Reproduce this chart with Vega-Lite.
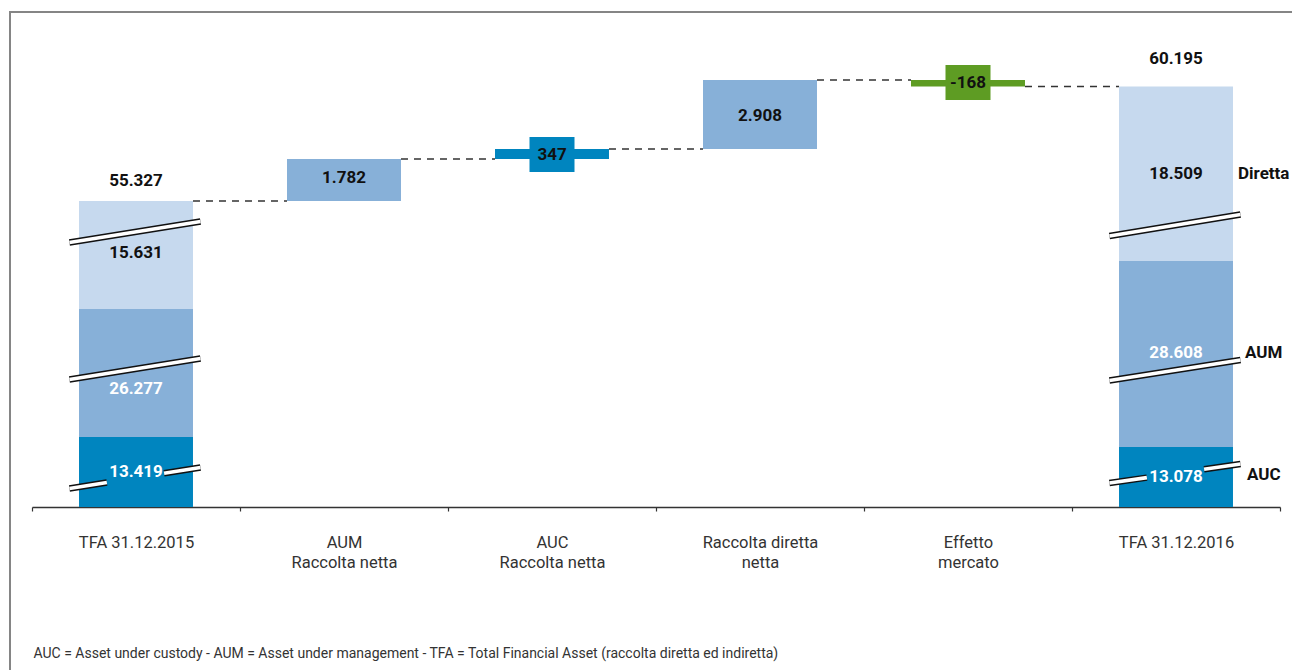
{
  "$schema": "https://vega.github.io/schema/vega-lite/v6.json",
  "width": 1284,
  "height": 660,
  "autosize": {"type": "none"},
  "padding": {"left": 10, "top": 12, "right": -2, "bottom": -2},
  "background": "white",
  "config": {
    "view": {"stroke": "#858585", "strokeWidth": 2},
    "font": "Roboto"
  },
  "datasets": {
    "bars": [
      {"cat": "TFA 31.12.2015", "kind": "AUC", "lo": 0, "hi": 13.419},
      {"cat": "TFA 31.12.2015", "kind": "AUM", "lo": 13.419, "hi": 39.696},
      {"cat": "TFA 31.12.2015", "kind": "Diretta", "lo": 39.696, "hi": 55.327},
      {"cat": "AUM|Raccolta netta", "kind": "AUM netta", "lo": 55.327, "hi": 57.109},
      {"cat": "AUC|Raccolta netta", "kind": "AUC netta", "lo": 57.109, "hi": 57.456},
      {"cat": "Raccolta diretta|netta", "kind": "Diretta netta", "lo": 57.456, "hi": 60.364},
      {"cat": "Effetto|mercato", "kind": "Mercato", "lo": 60.195, "hi": 60.364},
      {"cat": "TFA 31.12.2016", "kind": "AUC", "lo": 0, "hi": 13.078},
      {"cat": "TFA 31.12.2016", "kind": "AUM", "lo": 13.078, "hi": 41.686},
      {"cat": "TFA 31.12.2016", "kind": "Diretta", "lo": 41.686, "hi": 60.195}
    ],
    "labels": [
      {"cat": "TFA 31.12.2015", "text": "13.419", "tone": "light", "at": 7.629},
      {"cat": "TFA 31.12.2015", "text": "26.277", "tone": "light", "at": 23.273},
      {"cat": "TFA 31.12.2015", "text": "15.631", "tone": "dark", "at": 43.505},
      {"cat": "TFA 31.12.2015", "text": "55.327", "tone": "dark", "at": 56.176},
      {"cat": "AUM|Raccolta netta", "text": "1.782", "tone": "dark", "at": 56.282},
      {"cat": "AUC|Raccolta netta", "text": "347", "tone": "dark", "at": 57.265},
      {"cat": "Raccolta diretta|netta", "text": "2.908", "tone": "dark", "at": 58.902},
      {"cat": "Effetto|mercato", "text": "-168", "tone": "dark", "at": 60.28},
      {"cat": "TFA 31.12.2016", "text": "13.078", "tone": "light", "at": 6.539},
      {"cat": "TFA 31.12.2016", "text": "28.608", "tone": "light", "at": 30.663},
      {"cat": "TFA 31.12.2016", "text": "18.509", "tone": "dark", "at": 56.473},
      {"cat": "TFA 31.12.2016", "text": "60.195", "tone": "dark", "at": 62.893}
    ],
    "side": [
      {"cat": "TFA 31.12.2016", "text": "Diretta", "at": 56.473},
      {"cat": "TFA 31.12.2016", "text": "AUM", "at": 30.663},
      {"cat": "TFA 31.12.2016", "text": "AUC", "at": 6.975}
    ],
    "boxes": [
      {"cat": "AUC|Raccolta netta", "kind": "AUC netta", "at": 57.265},
      {"cat": "Effetto|mercato", "kind": "Mercato", "at": 60.3}
    ],
    "links": [
      {"cat": "TFA 31.12.2015", "cat2": "AUM|Raccolta netta", "level": 55.327},
      {"cat": "AUM|Raccolta netta", "cat2": "AUC|Raccolta netta", "level": 57.109},
      {"cat": "AUC|Raccolta netta", "cat2": "Raccolta diretta|netta", "level": 57.456},
      {"cat": "Raccolta diretta|netta", "cat2": "Effetto|mercato", "level": 60.364},
      {"cat": "Effetto|mercato", "cat2": "TFA 31.12.2016", "level": 60.195}
    ],
    "breaks": [
      {"cat": "TFA 31.12.2015", "part": "full", "ya": 45.892, "yb": 50.666},
      {"cat": "TFA 31.12.2015", "part": "full", "ya": 25.223, "yb": 29.534},
      {"cat": "TFA 31.12.2016", "part": "full", "ya": 47.37, "yb": 52.258},
      {"cat": "TFA 31.12.2016", "part": "full", "ya": 25.018, "yb": 29.226},
      {"cat": "TFA 31.12.2015", "part": "left", "ya": 4.032, "yb": 5.34},
      {"cat": "TFA 31.12.2015", "part": "right", "ya": 7.346, "yb": 8.61},
      {"cat": "TFA 31.12.2016", "part": "left", "ya": 5.231, "yb": 6.408},
      {"cat": "TFA 31.12.2016", "part": "right", "ya": 8.217, "yb": 9.373}
    ]
  },
  "layer": [
    {
      "data": {"name": "bars"},
      "mark": {"type": "bar", "width": {"band": 0.548}},
      "encoding": {
        "x": {"field": "cat", "type": "nominal",
              "scale": {"domain": ["TFA 31.12.2015", "AUM|Raccolta netta", "AUC|Raccolta netta", "Raccolta diretta|netta", "Effetto|mercato", "TFA 31.12.2016"], "range": [22, 1270], "paddingInner": 0, "paddingOuter": 0},
              "axis": {
                "title": "AUC = Asset under custody - AUM = Asset under management - TFA = Total Financial Asset (raccolta diretta ed indiretta)",
                "titleFont": "Roboto", "titleFontSize": 14, "titleFontWeight": "normal", "titleColor": "#333333",
                "titleX": 23, "titleY": 150, "titleAlign": "left", "titleAnchor": "start", "titleBaseline": "alphabetic",
                "labelExpr": "split(datum.label, '|')",
                "labelFont": "Roboto", "labelFontSize": 16.5, "labelColor": "#333333", "labelLineHeight": 20,
                "labelPadding": 23, "labelAngle": 0, "labelLimit": 400,
                "tickBand": "extent", "tickSize": 4, "tickColor": "#333333", "tickWidth": 1.2,
                "domainColor": "#333333", "domainWidth": 1.5, "offset": -165, "grid": false
              }},
        "y": {"field": "lo", "type": "quantitative",
              "scale": {"domain": [0, 13.078, 13.419, 39.696, 41.686, 55.327, 57.109, 57.456, 60.195, 60.364, 70], "range": [495, 435, 425, 297, 249, 189, 147, 137, 74.5, 68, -12], "nice": false, "zero": false},
              "axis": null},
        "y2": {"field": "hi"},
        "color": {"field": "kind", "type": "nominal", "legend": null,
                  "scale": {"domain": ["AUC", "AUM", "Diretta", "AUM netta", "AUC netta", "Diretta netta", "Mercato"],
                            "range": ["#0085bf", "#87b0d8", "#c6d9ee", "#87b0d8", "#0085bf", "#87b0d8", "#5e9c23"]}}
      }
    },
    {
      "data": {"name": "links"},
      "mark": {"type": "rule", "color": "#333333", "strokeWidth": 1.4, "strokeDash": [7, 6]},
      "encoding": {
        "x": {"field": "cat", "type": "nominal", "bandPosition": 0.774},
        "x2": {"field": "cat2", "bandPosition": 0.226},
        "y": {"field": "level", "type": "quantitative", "axis": null}
      }
    },
    {
      "data": {"name": "boxes"},
      "mark": {"type": "point", "shape": "M-1,-0.778L1,-0.778L1,0.778L-1,0.778Z", "size": 2025, "filled": true, "opacity": 1, "strokeWidth": 0},
      "encoding": {
        "x": {"field": "cat", "type": "nominal"},
        "y": {"field": "at", "type": "quantitative", "axis": null},
        "color": {"field": "kind", "type": "nominal", "legend": null}
      }
    },
    {
      "data": {"name": "breaks"},
      "transform": [{"filter": "datum.part === 'full'"}],
      "layer": [
        {"mark": {"type": "rule", "color": "#111111", "strokeWidth": 6.5}},
        {"mark": {"type": "rule", "color": "#ffffff", "strokeWidth": 3.6}}
      ],
      "encoding": {
        "x": {"field": "cat", "type": "nominal", "bandPosition": 0.18},
        "x2": {"field": "cat", "bandPosition": 0.81},
        "y": {"field": "ya", "type": "quantitative", "axis": null},
        "y2": {"field": "yb"}
      }
    },
    {
      "data": {"name": "breaks"},
      "transform": [{"filter": "datum.part === 'left'"}],
      "layer": [
        {"mark": {"type": "rule", "color": "#111111", "strokeWidth": 6.5}},
        {"mark": {"type": "rule", "color": "#ffffff", "strokeWidth": 3.6}}
      ],
      "encoding": {
        "x": {"field": "cat", "type": "nominal", "bandPosition": 0.18},
        "x2": {"field": "cat", "bandPosition": 0.36},
        "y": {"field": "ya", "type": "quantitative", "axis": null},
        "y2": {"field": "yb"}
      }
    },
    {
      "data": {"name": "breaks"},
      "transform": [{"filter": "datum.part === 'right'"}],
      "layer": [
        {"mark": {"type": "rule", "color": "#111111", "strokeWidth": 6.5}},
        {"mark": {"type": "rule", "color": "#ffffff", "strokeWidth": 3.6}}
      ],
      "encoding": {
        "x": {"field": "cat", "type": "nominal", "bandPosition": 0.635},
        "x2": {"field": "cat", "bandPosition": 0.81},
        "y": {"field": "ya", "type": "quantitative", "axis": null},
        "y2": {"field": "yb"}
      }
    },
    {
      "data": {"name": "labels"},
      "mark": {"type": "text", "font": "Roboto", "fontSize": 17, "fontWeight": "bold", "baseline": "middle", "align": "center"},
      "encoding": {
        "x": {"field": "cat", "type": "nominal"},
        "y": {"field": "at", "type": "quantitative", "axis": null},
        "text": {"field": "text", "type": "nominal"},
        "color": {"condition": {"test": "datum.tone === 'light'", "value": "#ffffff"}, "value": "#111111"}
      }
    },
    {
      "data": {"name": "side"},
      "mark": {"type": "text", "font": "Roboto", "fontSize": 17, "fontWeight": "bold", "baseline": "middle", "align": "center", "color": "#111111"},
      "encoding": {
        "x": {"field": "cat", "type": "nominal", "bandPosition": 0.922},
        "y": {"field": "at", "type": "quantitative", "axis": null},
        "text": {"field": "text", "type": "nominal"}
      }
    }
  ]
}
